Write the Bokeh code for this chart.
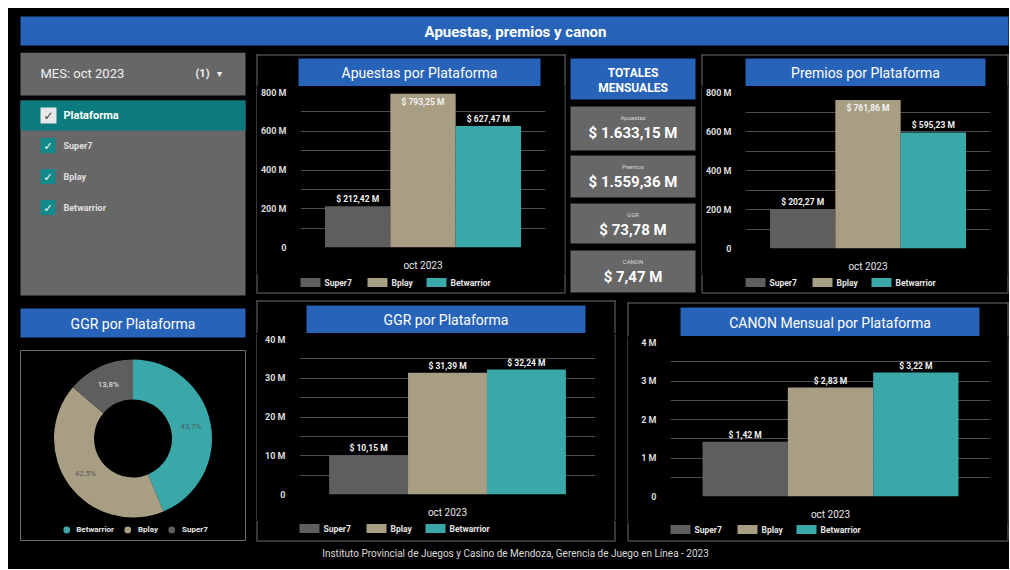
import math
from bokeh.plotting import figure
from bokeh.models import (Range1d, FactorRange, ColumnDataSource, Legend, LegendItem,
                          FixedTicker, CustomJSTickFormatter)
from bokeh.transform import dodge
from bokeh.layouts import row, column
from bokeh.embed import file_html
from bokeh.resources import INLINE
from bokeh.core.properties import value

# ---------------- data ----------------
MONTH = "oct 2023"
PLATFORMS = ["Super7", "Bplay", "Betwarrior"]
APUESTAS = [212.42, 793.25, 627.47]
PREMIOS = [202.27, 761.86, 595.23]
GGR = [10.15, 31.39, 32.24]
CANON = [1.42, 2.83, 3.22]
TOTAL_NAMES = ["Apuestas", "Premios", "GGR", "CANON"]
TOTAL_VALUES = [1633.15, 1559.36, 73.78, 7.47]
DONUT_ORDER = ["Betwarrior", "Bplay", "Super7"]
APUESTAS_TICKS = [0, 200, 400, 600, 800]
APUESTAS_MINOR = [100, 300, 500, 700]
GGR_TICKS = [0, 10, 20, 30, 40]
GGR_MINOR = [5, 15, 25, 35]
CANON_TICKS = [0, 1, 2, 3, 4]
CANON_MINOR = [0.5, 1.5, 2.5, 3.5]
MAIN_TITLE = "Apuestas, premios y canon"
FOOTER = "Instituto Provincial de Juegos y Casino de Mendoza, Gerencia de Juego en Línea - 2023"

# ---------------- style ----------------
BG = "#000000"
BLUE = "#2763b8"
PANEL_GREY = "#676767"
TEAL_ROW = "#0b7b7f"
CHECK_TEAL = "#14898c"
BORDER = "#6e6e6e"
GRID = "#4d4d4d"
COLORS = {"Super7": "#5e5e5e", "Bplay": "#a89e83", "Betwarrior": "#3aa7a9"}
PCT_COLORS = {"Super7": "#f0f0f0", "Bplay": "#5a5a5a", "Betwarrior": "#4a5e5e"}
FONT = "Roboto"
LEGEND_OFFSETS = [0, 67, 126]
BLACK_BG = {"background-color": BG}


def fmt_es(v):
    s = f"{v:,.2f}"
    return s.replace(",", "X").replace(".", ",").replace("X", ".")


def money(v):
    return "$ " + fmt_es(v) + " M"


def canvas(w, h):
    p = figure(width=w, height=h, x_range=Range1d(0, w), y_range=Range1d(h, 0),
               min_border=0, toolbar_location=None, output_backend="svg",
               x_axis_location=None, y_axis_location=None, frame_align=False)
    p.grid.visible = False
    p.outline_line_color = None
    p.background_fill_color = BG
    p.border_fill_color = BG
    return p


def lines(p, rects):
    p.quad(left=[r[0] for r in rects], right=[r[2] for r in rects],
           top=[r[1] for r in rects], bottom=[r[3] for r in rects],
           fill_color=BORDER, line_color=None)


def bar_panel(w, h, border, tbox, frame, title, values, ymax, ticks, minor, legend_y):
    bl, bt, br, bb = border
    tl, tt, tr, tb = tbox
    fl, ft, fr, fb = frame
    s1 = ft - 6
    s2 = fb + 18
    mh = s2 - s1
    # --- top strip: panel top border and title button
    ts = canvas(w, s1)
    lines(ts, [(bl, bt, br, bt + 1), (bl, bt, bl + 1, s1), (br - 1, bt, br, s1)])
    tbb = min(tb, s1)
    ts.quad(left=[tl], right=[tr], top=[tt], bottom=[tbb], fill_color=BLUE, line_color=None)
    ts.text(x=[(tl + tr) / 2], y=[(tt + tbb) / 2 + 0.5], text=[title], text_align="center",
            text_baseline="middle", text_color="white", text_font=value(FONT),
            text_font_size="14px")
    # --- side strips
    ls = canvas(bl + 1, mh)
    lines(ls, [(bl, 0, bl + 1, mh)])
    rs = canvas(w - br + 1, mh)
    lines(rs, [(0, 0, 1, mh)])
    # --- chart
    cx0 = bl + 1
    cw = br - bl - 2
    p = figure(width=cw, height=mh, x_range=FactorRange(factors=[MONTH]),
               y_range=Range1d(0, ymax), min_border_left=fl - cx0,
               min_border_right=cw - (fr - cx0), min_border_top=ft - s1,
               min_border_bottom=s2 - fb, toolbar_location=None, output_backend="svg",
               frame_align=False)
    p.background_fill_color = BG
    p.border_fill_color = BG
    p.outline_line_color = None
    bw = 0.8 / 3
    px_per = (fb - ft) / ymax
    for i, name in enumerate(PLATFORMS):
        v = values[i]
        src = ColumnDataSource(dict(mes=[MONTH], v=[v], lab=[money(v)]))
        off = (i - 1) * bw
        p.vbar(x=dodge("mes", off, range=p.x_range), top="v", width=bw, source=src,
               fill_color=COLORS[name], line_color=None)
        inside = (ymax - v) * px_per < 13
        p.text(x=dodge("mes", off, range=p.x_range), y="v", text="lab", source=src,
               text_align="center", text_baseline="top" if inside else "bottom",
               y_offset=3 if inside else -2, text_color="#f2f2f2",
               text_font=value(FONT), text_font_size="8.5px", text_font_style="bold")
    tk = FixedTicker(ticks=ticks, minor_ticks=minor)
    p.yaxis.ticker = tk
    p.ygrid.ticker = tk
    p.yaxis.formatter = CustomJSTickFormatter(code="return tick == 0 ? '0' : tick + ' M';")
    p.yaxis.axis_line_color = None
    p.yaxis.major_tick_line_color = None
    p.yaxis.minor_tick_line_color = None
    p.yaxis.major_label_text_color = "#dddddd"
    p.yaxis.major_label_text_font = FONT
    p.yaxis.major_label_text_font_size = "9px"
    p.yaxis.major_label_text_font_style = "bold"
    p.yaxis.major_label_standoff = 8
    p.ygrid.grid_line_color = GRID
    p.ygrid.minor_grid_line_color = GRID
    p.xgrid.grid_line_color = None
    p.xaxis.axis_line_color = None
    p.xaxis.major_tick_line_color = None
    p.xaxis.minor_tick_line_color = None
    p.xaxis.major_label_text_color = "#e6e6e6"
    p.xaxis.major_label_text_font = FONT
    p.xaxis.major_label_text_font_size = "10px"
    p.xaxis.major_label_standoff = 6
    # --- bottom strip: legend and panel bottom border
    bh = h - s2
    bs = canvas(w, bh)
    ly = legend_y - s2
    lines(bs, [(bl, 0, bl + 1, bb - s2), (br - 1, 0, br, bb - s2), (bl, bb - s2, br, bb - s2 + 1)])
    bs.quad(left=[fl + o for o in LEGEND_OFFSETS], right=[fl + o + 20 for o in LEGEND_OFFSETS],
            top=[ly - 4.5] * 3, bottom=[ly + 4.5] * 3,
            fill_color=[COLORS[n] for n in PLATFORMS], line_color=None)
    bs.text(x=[fl + o + 24 for o in LEGEND_OFFSETS], y=[ly] * 3, text=PLATFORMS,
            text_baseline="middle", text_color="#e6e6e6", text_font=value(FONT),
            text_font_size="8.5px", text_font_style="bold")
    return column(ts, row(ls, p, rs, styles=BLACK_BG), bs, styles=BLACK_BG)


# ---------------- title bar ----------------
top = canvas(1001, 44)
top.quad(left=[12], right=[1000], top=[8], bottom=[37], fill_color=BLUE, line_color=None)
top.text(x=[507], y=[23], text=[MAIN_TITLE], text_align="center", text_baseline="middle",
         text_color="white", text_font=value(FONT), text_font_size="15px", text_font_style="bold")

# ---------------- filter panel ----------------
flt = canvas(242, 245)
flt.quad(left=[12, 12], right=[237, 237], top=[0, 48], bottom=[43, 243],
         fill_color=PANEL_GREY, line_color=None)
flt.quad(left=[12], right=[237], top=[48], bottom=[78], fill_color=TEAL_ROW, line_color=None)
flt.text(x=[32], y=[21], text=["MES: " + MONTH], text_baseline="middle", text_color="#f0f0f0",
         text_font=value(FONT), text_font_size="13px")
flt.text(x=[201], y=[21], text=["(1)"], text_align="right", text_baseline="middle",
         text_color="#f0f0f0", text_font=value(FONT), text_font_size="11px", text_font_style="bold")
flt.text(x=[211], y=[21], text=["\u25BE"], text_align="center", text_baseline="middle",
         text_color="#f0f0f0", text_font=value("DejaVu Sans"), text_font_size="10px")
flt.quad(left=[32], right=[48], top=[55], bottom=[71], fill_color="#e8e8e8", line_color=None)
flt.text(x=[40], y=[63.5], text=["\u2713"], text_align="center", text_baseline="middle",
         text_color="#444444", text_font=value("DejaVu Sans"), text_font_size="12px")
flt.text(x=[55], y=[63], text=["Plataforma"], text_baseline="middle", text_color="white",
         text_font=value(FONT), text_font_size="11px", text_font_style="bold")
item_y = [93, 124, 155]
flt.quad(left=[32] * 3, right=[47] * 3, top=[y - 7.5 for y in item_y],
         bottom=[y + 7.5 for y in item_y], fill_color=CHECK_TEAL, line_color=None)
flt.text(x=[39.5] * 3, y=[y + 0.5 for y in item_y], text=["\u2713"] * 3, text_align="center",
         text_baseline="middle", text_color="white", text_font=value("DejaVu Sans"),
         text_font_size="11px")
flt.text(x=[55] * 3, y=item_y, text=PLATFORMS, text_baseline="middle", text_color="#e0e0e0",
         text_font=value(FONT), text_font_size="9px", text_font_style="bold")

# ---------------- totals ----------------
tot = canvas(131, 245)
tot.quad(left=[3], right=[128], top=[6], bottom=[47], fill_color=BLUE, line_color=None)
tot.text(x=[65.5, 65.5], y=[20, 35], text=["TOTALES", "MENSUALES"], text_align="center",
         text_baseline="middle", text_color="white", text_font=value(FONT),
         text_font_size="12px", text_font_style="bold")
box_t = [54, 103, 151, 198]
box_b = [98, 145, 191, 240]
tot.quad(left=[3] * 4, right=[128] * 4, top=box_t, bottom=box_b, fill_color=PANEL_GREY,
         line_color=None)
tot.text(x=[65.5] * 4, y=[t + 11 for t in box_t], text=TOTAL_NAMES, text_align="center",
         text_baseline="middle", text_color="#d8d8d8", text_font=value(FONT),
         text_font_size="6px")
tot.text(x=[65.5] * 4, y=[t + 26 for t in box_t], text=[money(v) for v in TOTAL_VALUES],
         text_align="center", text_baseline="middle", text_color="white",
         text_font=value(FONT), text_font_size="15px", text_font_style="bold")

# ---------------- bar charts ----------------
apu = bar_panel(317, 245, (6, 2, 315, 240), (48, 6, 290, 35), (50, 40, 295, 203),
                "Apuestas por Plataforma", APUESTAS, 800, APUESTAS_TICKS, APUESTAS_MINOR, 230)
pre = bar_panel(311, 245, (3, 2, 310, 240), (47, 6, 287, 36), (47, 40, 292, 204),
                "Premios por Plataforma", PREMIOS, 800, APUESTAS_TICKS, APUESTAS_MINOR, 230)
ggr = bar_panel(370, 248, (6, 3, 365, 243), (56, 8, 335, 37), (49, 42, 345, 205),
                "GGR por Plataforma", GGR, 40, GGR_TICKS, GGR_MINOR, 231)
can = bar_panel(389, 248, (7, 5, 388, 243), (60, 10, 359, 40), (50, 45, 370, 207),
                "CANON Mensual por Plataforma", CANON, 4, CANON_TICKS, CANON_MINOR, 232)

# ---------------- donut ----------------
dts = canvas(242, 50)
dts.quad(left=[12], right=[237], top=[11], bottom=[40], fill_color=BLUE, line_color=None)
dts.text(x=[124.5], y=[26], text=["GGR por Plataforma"], text_align="center",
         text_baseline="middle", text_color="white", text_font=value(FONT),
         text_font_size="14px")
don = figure(width=242, height=198, x_range=Range1d(-112.5, 112.5), y_range=Range1d(-102, 88),
             min_border_left=12, min_border_right=5, min_border_top=3, min_border_bottom=5,
             toolbar_location=None, output_backend="svg", x_axis_location=None,
             y_axis_location=None, frame_align=False)
don.grid.visible = False
don.background_fill_color = BG
don.border_fill_color = BG
don.outline_line_color = BORDER
total_ggr = sum(GGR)
starts, ends, cols, lx, ly, labs, lcols = [], [], [], [], [], [], []
cum = 0.0
for name in DONUT_ORDER:
    frac = GGR[PLATFORMS.index(name)] / total_ggr
    starts.append(math.pi / 2 - cum * 2 * math.pi)
    ends.append(math.pi / 2 - (cum + frac) * 2 * math.pi)
    mid = (cum + frac / 2) * 2 * math.pi
    lx.append(59 * math.sin(mid))
    ly.append(59 * math.cos(mid))
    labs.append(f"{frac * 100:.1f}%".replace(".", ","))
    cols.append(COLORS[name])
    lcols.append(PCT_COLORS[name])
    cum += frac
don.annular_wedge(x=0, y=0, inner_radius=39, outer_radius=79,
                  source=ColumnDataSource(dict(s=starts, e=ends, c=cols)),
                  start_angle="s", end_angle="e", direction="clock",
                  fill_color="c", line_color=None)
don.text(x=lx, y=ly, text=labs, text_color=lcols, text_align="center", text_baseline="middle",
         text_font=value(FONT), text_font_size="8px")
ditems = []
for name in DONUT_ORDER:
    # legend swatch only: a single point kept outside the visible ranges
    r = don.scatter(x=[-1000], y=[-1000], marker="circle", size=9,
                    fill_color=COLORS[name], line_color=None)
    ditems.append(LegendItem(label=name, renderers=[r]))
dleg = Legend(items=ditems, orientation="horizontal", location="bottom_center",
              background_fill_alpha=0, border_line_color=None, label_text_color="#e6e6e6",
              label_text_font=FONT, label_text_font_size="8px", label_text_font_style="bold",
              glyph_width=17, glyph_height=17, spacing=5, padding=0, margin=2,
              label_standoff=2, label_height=9)
don.add_layout(dleg)
donut_col = column(dts, don, styles=BLACK_BG)

# ---------------- footer ----------------
foot = canvas(1001, 24)
foot.text(x=[507], y=[8], text=[FOOTER], text_align="center", text_baseline="middle",
          text_color="#dcdcdc", text_font=value(FONT), text_font_size="10px")

layout = column(top,
                row(flt, apu, tot, pre, styles=BLACK_BG),
                row(donut_col, ggr, can, styles=BLACK_BG),
                foot, styles=BLACK_BG, margin=(8, 0, 0, 8))

with open("out.html", "w", encoding="utf-8") as fh:
    fh.write(file_html(layout, INLINE, MAIN_TITLE))
